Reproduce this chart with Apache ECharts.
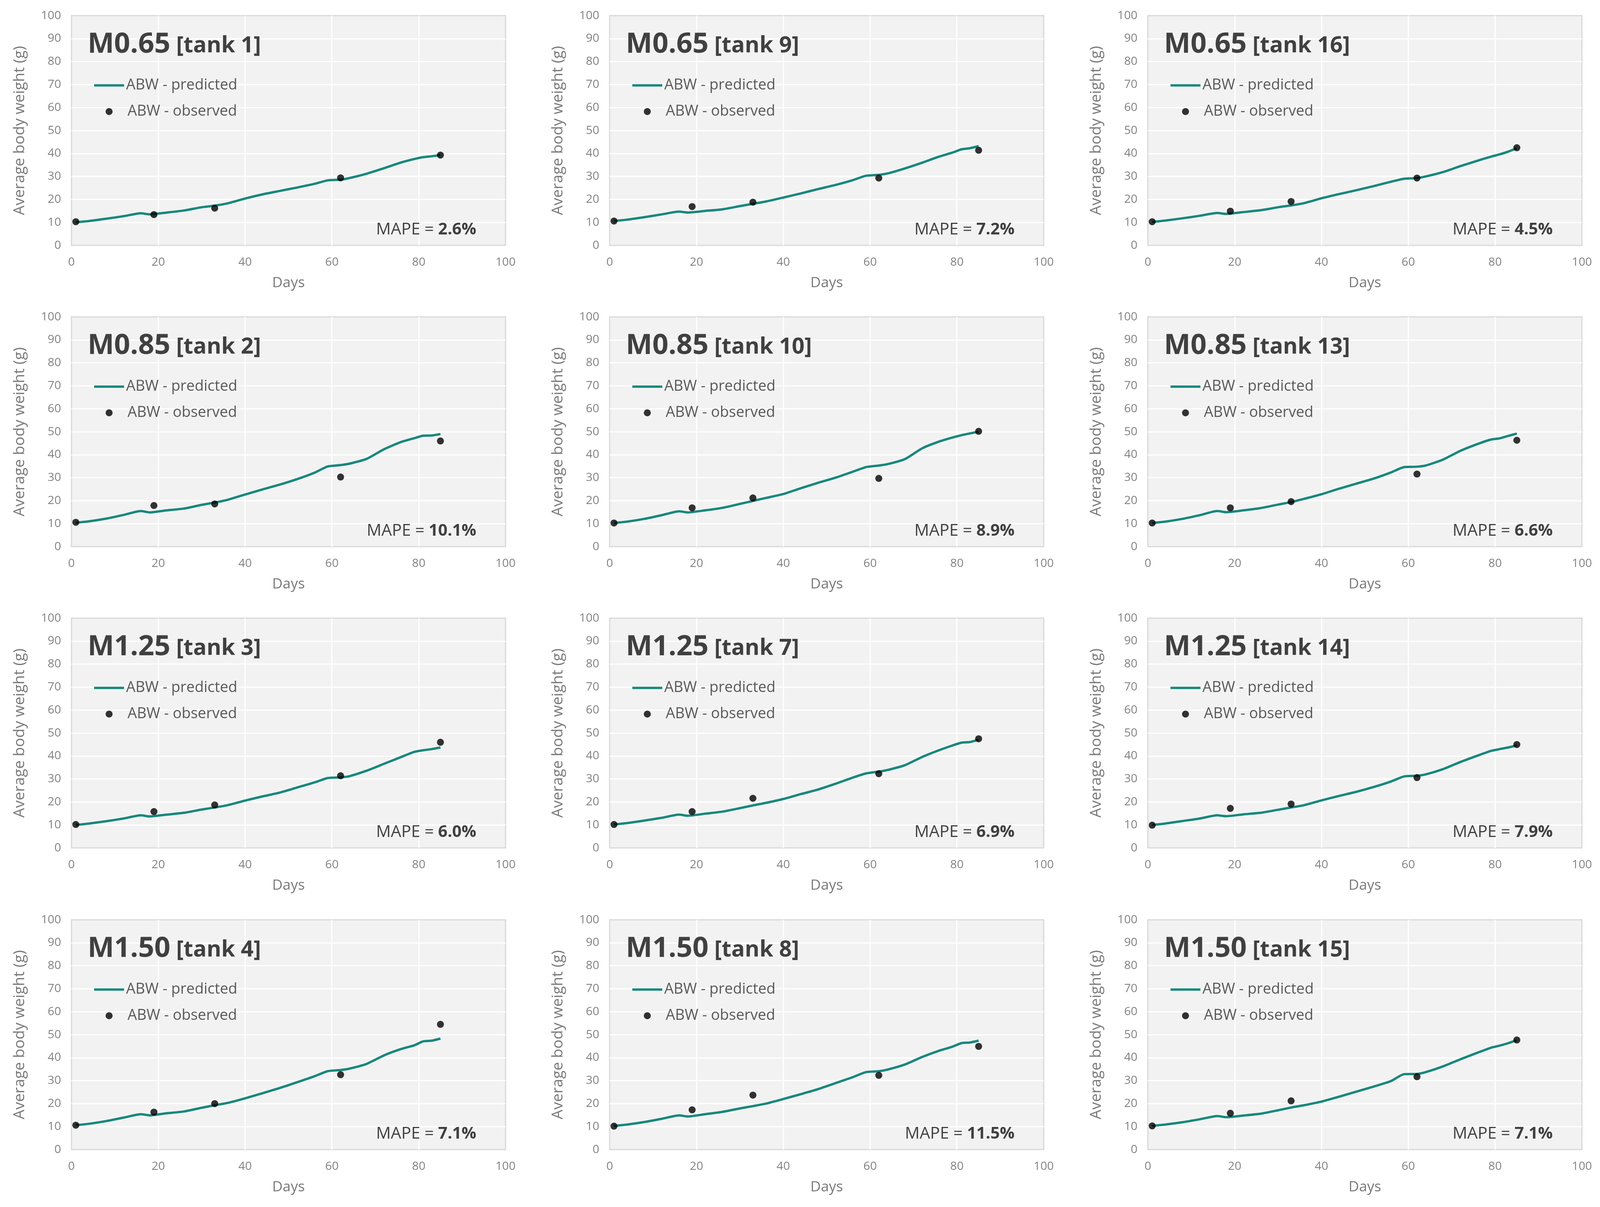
<!DOCTYPE html>
<html>
<head>
<meta charset="utf-8">
<script src="https://cdn.jsdelivr.net/npm/echarts@6/dist/echarts.min.js"></script>
<style>
html,body{margin:0;padding:0;background:#fff;overflow:hidden;width:100%;height:100%;}
#chart{width:100vw;height:100vh;}
</style>
</head>
<body>
<div id="chart"></div>
<script>
// ---- data ----
const predDays = [1, 4, 8, 12, 16, 18, 22, 26, 30, 33, 36, 40, 44, 48, 52, 56, 59, 62, 64, 68, 72, 76, 79, 81, 83, 85];
const obsDays = [1, 19, 33, 62, 85];
const xTicks = [0, 20, 40, 60, 80, 100];
const yTicks = [0, 10, 20, 30, 40, 50, 60, 70, 80, 90, 100];

const pred_tank1  = [10.1, 10.6, 11.6, 12.7, 14.0, 13.5, 14.3, 15.2, 16.6, 17.3, 18.3, 20.4, 22.2, 23.7, 25.2, 26.8, 28.3, 28.6, 29.3, 31.2, 33.6, 36.1, 37.6, 38.4, 38.8, 39.3];
const pred_tank9  = [10.6, 11.2, 12.3, 13.5, 14.7, 14.3, 15.0, 15.7, 17.1, 18.1, 19.1, 20.8, 22.6, 24.5, 26.3, 28.4, 30.3, 30.7, 31.3, 33.5, 36.0, 38.7, 40.4, 41.8, 42.3, 43.2];
const pred_tank16 = [10.2, 10.8, 11.8, 12.9, 14.1, 13.7, 14.5, 15.3, 16.6, 17.4, 18.4, 20.5, 22.3, 24.0, 25.8, 27.7, 29.0, 29.3, 30.0, 31.9, 34.5, 36.9, 38.6, 39.6, 40.8, 42.3];
const pred_tank2  = [10.4, 11.0, 12.2, 13.8, 15.5, 14.9, 15.8, 16.6, 18.2, 19.2, 20.4, 22.7, 24.9, 27.0, 29.4, 32.2, 34.9, 35.5, 36.1, 38.2, 42.4, 45.6, 47.2, 48.3, 48.4, 49.0];
const pred_tank10 = [10.3, 10.9, 12.1, 13.7, 15.4, 14.9, 15.8, 16.9, 18.6, 19.9, 21.2, 22.9, 25.4, 27.8, 30.0, 32.6, 34.6, 35.3, 35.9, 38.1, 42.8, 45.8, 47.5, 48.5, 49.3, 50.0];
const pred_tank13 = [10.3, 10.9, 12.1, 13.7, 15.5, 15.0, 15.8, 16.8, 18.3, 19.4, 20.8, 22.8, 25.2, 27.4, 29.6, 32.3, 34.6, 34.8, 35.3, 37.9, 41.7, 44.7, 46.6, 47.1, 48.2, 49.2];
const pred_tank3  = [10.0, 10.6, 11.6, 12.8, 14.2, 13.7, 14.5, 15.3, 16.7, 17.6, 18.6, 20.6, 22.4, 24.1, 26.3, 28.5, 30.4, 30.7, 31.2, 33.6, 36.6, 39.6, 41.8, 42.5, 43.0, 43.7];
const pred_tank7  = [10.2, 10.8, 11.9, 13.1, 14.5, 14.0, 14.9, 15.8, 17.3, 18.5, 19.6, 21.3, 23.4, 25.4, 27.9, 30.6, 32.4, 33.2, 33.9, 36.0, 39.6, 42.6, 44.6, 45.8, 46.1, 47.1];
const pred_tank14 = [10.0, 10.6, 11.7, 12.8, 14.2, 13.8, 14.6, 15.3, 16.6, 17.6, 18.6, 20.7, 22.6, 24.4, 26.5, 28.9, 31.1, 31.4, 32.0, 34.3, 37.4, 40.2, 42.2, 43.0, 43.7, 44.6];
const pred_tank4  = [10.6, 11.2, 12.4, 13.9, 15.4, 14.9, 15.8, 16.6, 18.2, 19.3, 20.3, 22.3, 24.5, 26.8, 29.3, 31.9, 34.1, 34.6, 35.2, 37.3, 41.0, 43.8, 45.4, 47.1, 47.4, 48.3];
const pred_tank8  = [10.3, 10.9, 12.0, 13.4, 14.9, 14.4, 15.4, 16.4, 17.9, 18.9, 20.0, 22.0, 24.1, 26.3, 28.9, 31.5, 33.7, 34.1, 34.8, 37.0, 40.3, 43.1, 44.8, 46.3, 46.6, 47.4];
const pred_tank15 = [10.3, 10.9, 11.9, 13.2, 14.6, 14.1, 14.8, 15.6, 17.1, 18.3, 19.3, 20.9, 23.0, 25.2, 27.4, 29.8, 32.8, 32.9, 33.7, 36.2, 39.3, 42.2, 44.3, 45.2, 46.3, 47.6];

const obs_tank1  = [10.3, 13.4, 16.2, 29.4, 39.3];
const obs_tank9  = [10.6, 16.9, 18.8, 29.3, 41.4];
const obs_tank16 = [10.3, 14.9, 19.1, 29.3, 42.5];
const obs_tank2  = [10.6, 17.9, 18.6, 30.3, 46.0];
const obs_tank10 = [10.3, 16.9, 21.2, 29.7, 50.2];
const obs_tank13 = [10.3, 16.9, 19.6, 31.6, 46.3];
const obs_tank3  = [10.2, 15.8, 18.7, 31.4, 46.0];
const obs_tank7  = [10.2, 15.8, 21.6, 32.3, 47.5];
const obs_tank14 = [9.9, 17.2, 19.1, 30.6, 45.0];
const obs_tank4  = [10.6, 16.3, 20.0, 32.6, 54.5];
const obs_tank8  = [10.2, 17.3, 23.7, 32.3, 44.9];
const obs_tank15 = [10.3, 15.8, 21.2, 31.7, 47.7];

const treatments = ['M0.65', 'M0.85', 'M1.25', 'M1.50'];
const tankLabels = [['tank 1', 'tank 9', 'tank 16'], ['tank 2', 'tank 10', 'tank 13'], ['tank 3', 'tank 7', 'tank 14'], ['tank 4', 'tank 8', 'tank 15']];
const mapeValues = [['2.6%', '7.2%', '4.5%'], ['10.1%', '8.9%', '6.6%'], ['6.0%', '6.9%', '7.9%'], ['7.1%', '11.5%', '7.1%']];
const predGrid = [[pred_tank1, pred_tank9, pred_tank16], [pred_tank2, pred_tank10, pred_tank13], [pred_tank3, pred_tank7, pred_tank14], [pred_tank4, pred_tank8, pred_tank15]];
const obsGrid = [[obs_tank1, obs_tank9, obs_tank16], [obs_tank2, obs_tank10, obs_tank13], [obs_tank3, obs_tank7, obs_tank14], [obs_tank4, obs_tank8, obs_tank15]];

// ---- layout (reference units 4165 x 3089, scaled to the real chart size) ----
const el = document.getElementById('chart');
const CW = el.clientWidth || window.innerWidth;
const CH = el.clientHeight || window.innerHeight;
const sx = CW / 4165, sy = CH / 3089, s = Math.min(sx, sy);
const X = v => v * sx, Y = v => v * sy, F = v => Math.round(v * s);

const colLeft = [186, 1587, 2988];
const gridW = 1130;
const rowTop = [40, 811, 1582, 2354];
const gridH = 588;
const FONT = '"Open Sans", "Noto Sans", sans-serif';
const TEAL = '#17877d';

const option = {
  backgroundColor: '#ffffff',
  animation: false,
  textStyle: { fontFamily: FONT },
  grid: [], xAxis: [], yAxis: [], series: [], title: [], legend: []
};

for (let r = 0; r < 4; r++) {
  for (let c = 0; c < 3; c++) {
    const i = r * 3 + c;
    const L = colLeft[c], T = rowTop[r];
    option.grid.push({
      left: X(L), top: Y(T), width: X(gridW), height: Y(gridH),
      show: true, backgroundColor: '#f2f2f2', borderColor: '#d9d9d9', borderWidth: F(3)
    });
    option.xAxis.push({
      type: 'value', gridIndex: i, min: 0, max: 100, interval: 20,
      name: 'Days', nameLocation: 'middle', nameGap: Y(78),
      nameTextStyle: { color: '#7a7a7a', fontSize: F(38), fontFamily: FONT },
      axisLine: { show: false }, axisTick: { show: false },
      axisLabel: { color: '#828282', fontSize: F(30), margin: Y(28), fontFamily: FONT },
      splitLine: { show: true, showMinLine: false, showMaxLine: false, lineStyle: { color: '#ffffff', width: F(3) } }
    });
    option.yAxis.push({
      type: 'value', gridIndex: i, min: 0, max: 100, interval: 10,
      name: 'Average body weight (g)', nameLocation: 'middle', nameGap: X(114), nameRotate: 90,
      nameTextStyle: { color: '#7a7a7a', fontSize: F(40), fontFamily: FONT },
      axisLine: { show: false }, axisTick: { show: false },
      axisLabel: { color: '#828282', fontSize: F(30), margin: X(27), fontFamily: FONT },
      splitLine: { show: true, showMinLine: false, showMaxLine: false, lineStyle: { color: '#ffffff', width: F(3) } }
    });
    option.series.push({
      name: 'ABW - predicted', type: 'line', xAxisIndex: i, yAxisIndex: i,
      data: predDays.map((d, k) => [d, predGrid[r][c][k]]),
      symbol: 'none', smooth: 0.2,
      lineStyle: { color: TEAL, width: F(6) }, itemStyle: { color: TEAL }, z: 3
    });
    option.series.push({
      name: 'ABW - observed', type: 'scatter', xAxisIndex: i, yAxisIndex: i,
      data: obsDays.map((d, k) => [d, obsGrid[r][c][k]]),
      symbol: 'circle', symbolSize: F(18),
      itemStyle: { color: '#000000' }, z: 4
    });
    option.title.push({
      text: '{a|' + treatments[r] + '}{b| [' + tankLabels[r][c] + ']}',
      left: X(L + 42), top: Y(T + 23), padding: 0,
      textStyle: {
        rich: {
          a: { fontSize: F(73), fontWeight: 'bold', color: '#404040', fontFamily: FONT, lineHeight: F(88), verticalAlign: 'bottom' },
          b: { fontSize: F(58), fontWeight: 'bold', color: '#404040', fontFamily: FONT, lineHeight: F(70), verticalAlign: 'bottom', padding: [0, 0, F(4), 0] }
        }
      }
    });
    option.title.push({
      text: '{n|MAPE = }{b|' + mapeValues[r][c] + '}',
      right: CW - X(L + gridW - 76), top: Y(T + gridH - 39) - F(25), padding: 0,
      textStyle: {
        rich: {
          n: { fontSize: F(43), fontWeight: 'normal', color: '#404040', fontFamily: FONT, lineHeight: F(50) },
          b: { fontSize: F(43), fontWeight: 'bold', color: '#404040', fontFamily: FONT, lineHeight: F(50) }
        }
      }
    });
    // legend: predicted line
    option.legend.push({
      data: [{ name: 'ABW - predicted', icon: 'rect' }],
      left: X(L + 59), top: Y(T + 179) - F(20), padding: 0,
      itemWidth: X(78), itemHeight: F(6),
      selectedMode: false,
      itemStyle: { color: TEAL },
      textStyle: { color: '#595959', fontSize: F(39), fontFamily: FONT, lineHeight: F(40) }
    });
    // legend: observed dot (square icon box centred under the line sample)
    option.legend.push({
      data: [{ name: 'ABW - observed', icon: 'circle' }],
      left: X(L + 98) - F(9), top: Y(T + 246) - F(20), padding: 0,
      itemWidth: F(18), itemHeight: F(18),
      selectedMode: false,
      itemStyle: { color: '#000000' },
      textStyle: { color: '#595959', fontSize: F(39), fontFamily: FONT, lineHeight: F(40),
                   padding: [0, 0, 0, X(L + 146) - (X(L + 98) - F(9) + F(18) + 5)] }
    });
  }
}

const chart = echarts.init(el, null, { renderer: 'canvas', width: CW, height: CH });
chart.setOption(option);
</script>
</body>
</html>
